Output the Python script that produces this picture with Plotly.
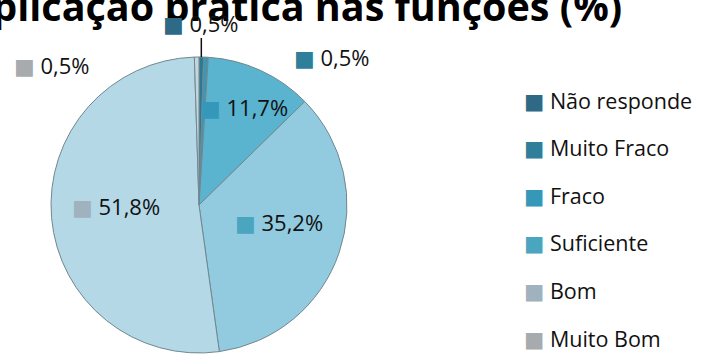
import math
import plotly.graph_objects as go

# Survey answers: "Aplicação prática nas funções" (%)
categories = ["Não responde", "Muito Fraco", "Fraco", "Suficiente", "Bom", "Muito Bom"]
values = [0.5, 0.5, 11.7, 35.2, 51.8, 0.5]

slice_colors = ["#2a7a94", "#3d97b3", "#5ab3cf", "#92cbe0", "#b4d8e6", "#c3d5dd"]
key_colors = ["#2e6a86", "#2f7f9b", "#3598b8", "#4aa5bf", "#9fb2bd", "#a7abae"]

title_text = "Aplicação prática nas funções (%)"

W, H = 703, 354
FONT = "Open Sans, Lato, DejaVu Sans, sans-serif"

# pie placement (pixels)
CX, CY, R = 199, 205, 148

# label placement per slice: (radial factor, dx, dy) in pixels
label_place = [
    (1.0, 0, -34),
    (1.0, 126, 0),
    (0.73, 0, 0),
    (0.55, 3, -9),
    (0.56, 0, -6),
    (1.0, -145, 8),
]


def px(x):
    return x / W


def py(y):
    return 1 - y / H


def fmt(v):
    return f"{v:.1f}".replace(".", ",") + "%"


fig = go.Figure()
fig.add_trace(go.Pie(
    labels=categories,
    values=values,
    sort=False,
    direction="clockwise",
    rotation=0,
    marker=dict(colors=slice_colors, line=dict(color="#71878f", width=1)),
    textinfo="none",
    hoverinfo="label+percent",
    domain=dict(x=[px(CX - R), px(CX + R)], y=[py(CY + R), py(CY - R)]),
    showlegend=False,
))

annotations = []
shapes = []

# title (wider than the page, its start runs off the left edge)
annotations.append(dict(
    x=px(624), y=py(35.5), xref="paper", yref="paper",
    xanchor="right", yanchor="bottom", showarrow=False,
    text=f"<b>{title_text}</b>",
    font=dict(family=FONT, size=39.5, color="#000000"),
))

total = sum(values)
cum = 0.0
for i, (cat, v) in enumerate(zip(categories, values)):
    mid = (cum + v / 2) / total * 2 * math.pi
    cum += v
    f, dx, dy = label_place[i]
    ex = CX + R * f * math.sin(mid)
    ey = CY - R * f * math.cos(mid)
    lx, ly = ex + dx, ey + dy
    annotations.append(dict(
        x=px(lx), y=py(ly), xref="paper", yref="paper",
        xanchor="center", yanchor="middle", showarrow=False,
        text=f'<span style="color:{key_colors[i]}">■</span> {fmt(v)}',
        font=dict(family=FONT, size=22, color="#111111"),
    ))
    if i == 0:
        # leader line from the rim up to the label
        shapes.append(dict(
            type="line", xref="paper", yref="paper",
            x0=px(ex), y0=py(ey), x1=px(ex), y1=py(ly + 15),
            line=dict(color="#111111", width=1.5),
        ))

# key on the right
KEY_X, KEY_Y0, KEY_STEP = 522, 100, 47.6
for i, cat in enumerate(categories):
    annotations.append(dict(
        x=px(KEY_X), y=py(KEY_Y0 + i * KEY_STEP), xref="paper", yref="paper",
        xanchor="left", yanchor="middle", showarrow=False,
        text=f'<span style="color:{key_colors[i]}">■</span> {cat}',
        font=dict(family=FONT, size=21.5, color="#111111"),
    ))

fig.update_layout(
    width=W, height=H,
    margin=dict(l=0, r=0, t=0, b=0),
    paper_bgcolor="white",
    plot_bgcolor="white",
    showlegend=False,
    annotations=annotations,
    shapes=shapes,
)

fig.write_html("out.html")
